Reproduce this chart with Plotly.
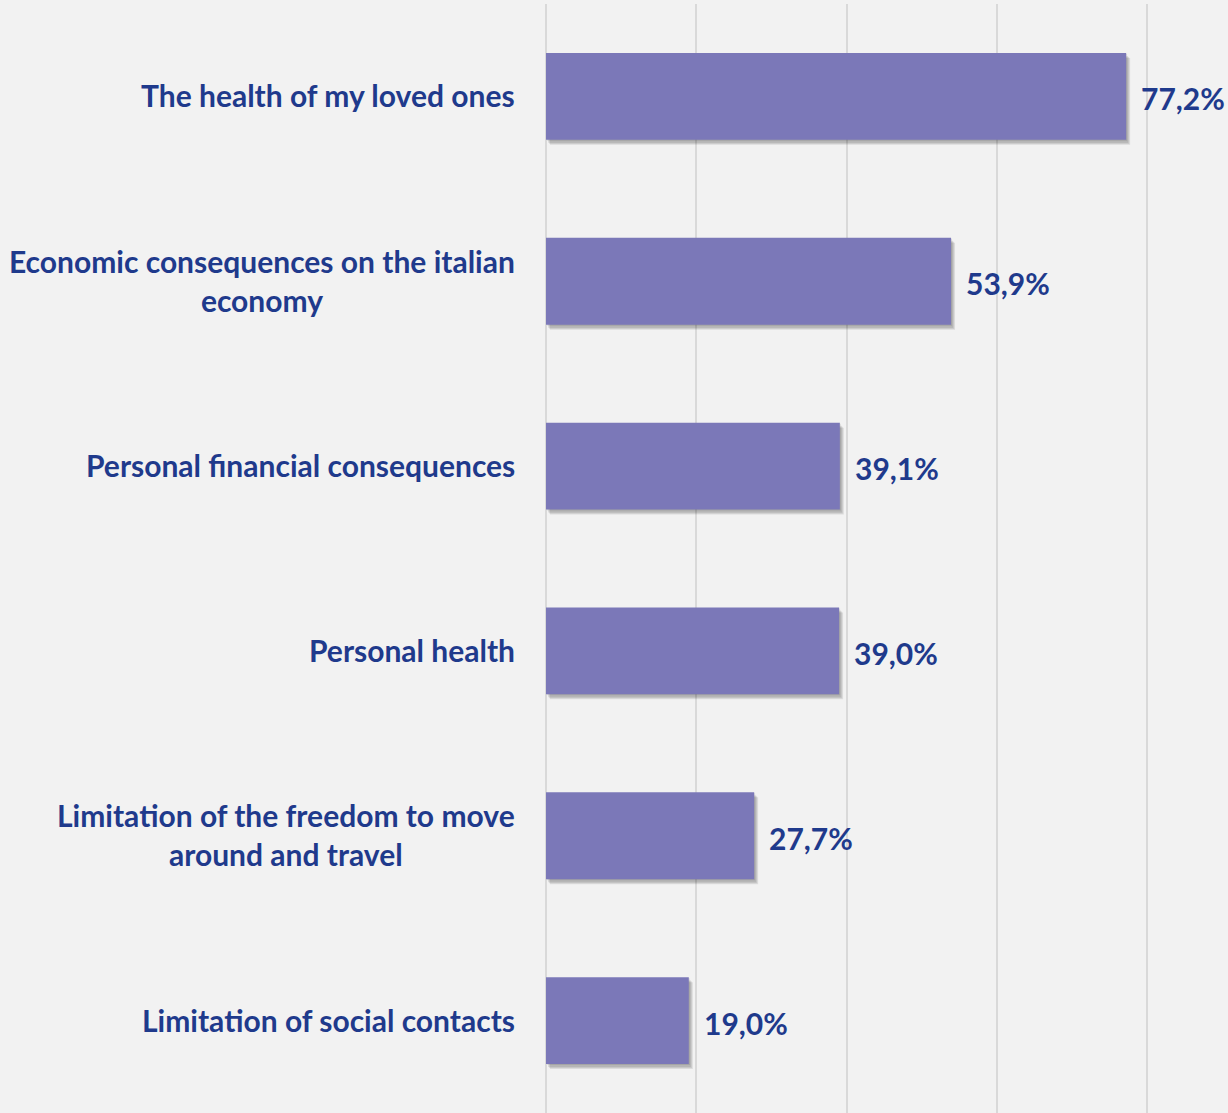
import plotly.graph_objects as go

# Survey: main worries (share of respondents, %)
categories = [
    "The health of my loved ones",
    "Economic consequences on the italian<br>economy",
    "Personal financial consequences",
    "Personal health",
    "Limitation of the freedom to move<br>around and travel",
    "Limitation of social contacts",
]
values = [77.2, 53.9, 39.1, 39.0, 27.7, 19.0]

BAR = "#7b78b8"
TXT = "#1f3a8c"
BG = "#f2f2f2"
GRID = "#d9d9d9"
FONT = "Lato"
FSIZE = 30

X_MAX = 90.75
PX_PER_X = 682 / X_MAX          # plot width / x span
PX_PER_Y = 1109 / 6             # plot height / category span

def x_range(dx):
    s = dx / PX_PER_X
    return [-s, X_MAX - s]

def y_range(dy):
    s = dy / PX_PER_Y
    return [5.5 - s, -0.5 - s]

hidden = dict(showgrid=False, zeroline=False, showticklabels=False, ticks="")
cat_axis = dict(type="category", categoryorder="array", categoryarray=categories)

fig = go.Figure()

# base axes: grid only (transparent placeholder bars keep the subplot alive)
fig.add_trace(go.Bar(
    x=values, y=categories, orientation="h", width=0.47,
    marker=dict(color="rgba(0,0,0,0)", line=dict(width=0)),
    hoverinfo="skip", showlegend=False,
))
layout = dict(
    width=1228, height=1113,
    margin=dict(l=546, r=0, t=4, b=0),
    paper_bgcolor=BG, plot_bgcolor=BG,
    font=dict(family=FONT, color=TXT, size=FSIZE),
    xaxis=dict(range=[0, X_MAX], showgrid=True, gridcolor=GRID, gridwidth=2,
               dtick=20, tick0=0, zeroline=True, zerolinecolor=GRID,
               zerolinewidth=2, showticklabels=False, ticks=""),
    yaxis=dict(range=y_range(0), **cat_axis, **hidden),
)

# soft drop shadow: stacked translucent copies on slightly shifted axes
shadow_offsets = [(1, 1), (2, 3), (3, 4), (4, 5)]
n = 2
for dx, dy in shadow_offsets:
    fig.add_trace(go.Bar(
        x=values, y=categories, orientation="h", width=0.47,
        marker=dict(color="rgba(0,0,0,0.09)", line=dict(width=0)),
        xaxis=f"x{n}", yaxis=f"y{n}", hoverinfo="skip", showlegend=False,
    ))
    layout[f"xaxis{n}"] = dict(range=x_range(dx), overlaying="x", **hidden)
    layout[f"yaxis{n}"] = dict(range=y_range(dy), overlaying="y", **cat_axis, **hidden)
    n += 1

# main bars on the top-most overlay
fig.add_trace(go.Bar(
    x=values, y=categories, orientation="h", width=0.47,
    marker=dict(color=BAR, line=dict(width=0)),
    xaxis=f"x{n}", yaxis=f"y{n}", showlegend=False,
))
layout[f"xaxis{n}"] = dict(range=x_range(0), overlaying="x", **hidden)
layout[f"yaxis{n}"] = dict(range=y_range(0), overlaying="y", **cat_axis, **hidden)
fig.update_layout(**layout)

# category labels, centred lines, right-aligned block
for cat in categories:
    fig.add_annotation(
        text=f"<b>{cat}</b>", xref="paper", x=0, xanchor="right", xshift=-29,
        yref="y", y=cat, yanchor="middle", yshift=1, align="center",
        showarrow=False, font=dict(family=FONT, size=FSIZE, color=TXT),
    )

# value labels
for cat, v in zip(categories, values):
    fig.add_annotation(
        text="<b>" + f"{v:.1f}%".replace(".", ",") + "</b>",
        xref="x", x=v, xanchor="left", xshift=13,
        yref="y", y=cat, yanchor="middle", yshift=-2, showarrow=False,
        font=dict(family=FONT, size=FSIZE, color=TXT),
    )

fig.write_html("out.html")
